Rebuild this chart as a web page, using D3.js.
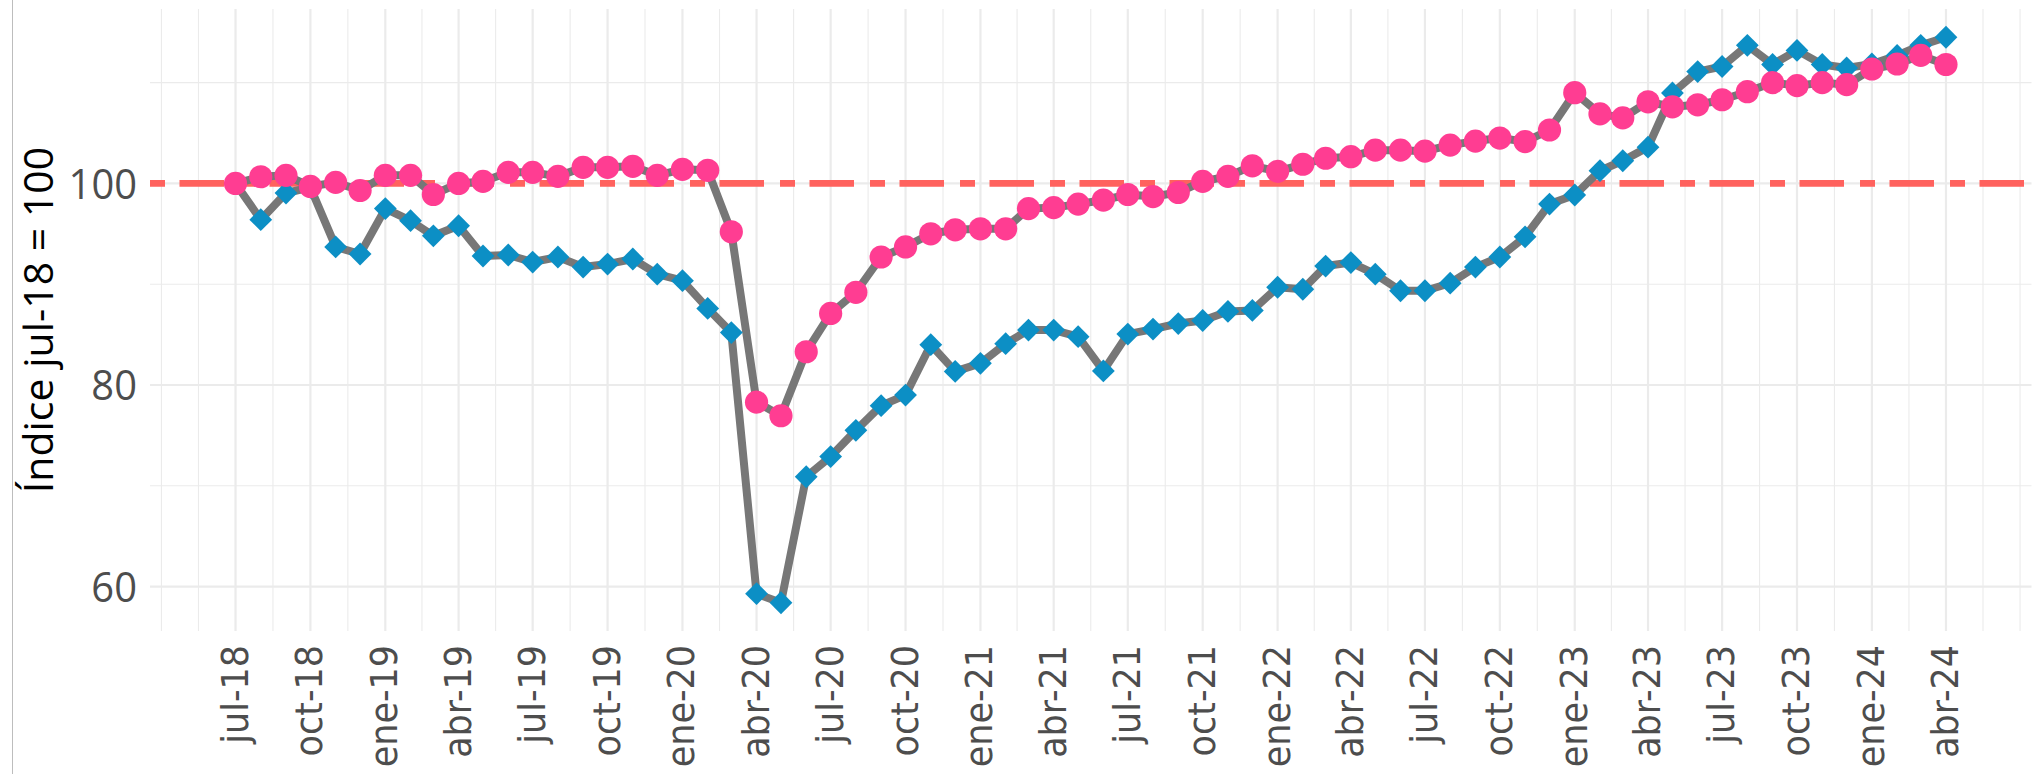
<!DOCTYPE html>
<html>
<head>
<meta charset="utf-8">
<script src="https://cdn.jsdelivr.net/npm/d3@7"></script>
<style>
  html, body { margin: 0; padding: 0; background: #ffffff; }
  svg { display: block; }
</style>
</head>
<body>
<svg id="chart" width="2033" height="774"></svg>
<script>
// ---------------- DATA ----------------
const startMonth = "2018-07";   // first month of both series (monthly data)
const monthCount = 70;          // jul-18 .. abr-24

const seriesBlue = [
  100.0, 96.4, 99.05, 99.6, 93.7, 93.0, 97.5, 96.3, 94.8, 95.8,
  92.8, 92.9, 92.2, 92.7, 91.7, 92.0, 92.5, 91.0, 90.35, 87.6,
  85.2, 59.3, 58.4, 70.9, 72.9, 75.5, 77.95, 79.0, 84.0, 81.35,
  82.15, 84.1, 85.45, 85.45, 84.8, 81.4, 85.05, 85.55, 86.1, 86.4,
  87.3, 87.4, 89.7, 89.5, 91.8, 92.15, 91.0, 89.35, 89.35, 90.1,
  91.7, 92.7, 94.7, 97.95, 98.85, 101.26, 102.25, 103.6, 108.97, 111.1,
  111.6, 113.7, 111.8, 113.2, 111.8, 111.45, 111.85, 112.7, 113.7, 114.5
];

const seriesPink = [
  100.0, 100.66, 100.8, 99.7, 100.1, 99.3, 100.8, 100.8, 98.9, 100.0,
  100.2, 101.1, 101.1, 100.7, 101.6, 101.6, 101.7, 100.8, 101.4, 101.3,
  95.2, 78.3, 76.95, 83.3, 87.1, 89.2, 92.7, 93.7, 95.0, 95.4,
  95.5, 95.5, 97.5, 97.6, 97.95, 98.35, 98.9, 98.7, 99.1, 100.2,
  100.7, 101.75, 101.2, 101.9, 102.5, 102.65, 103.3, 103.3, 103.2, 103.8,
  104.2, 104.5, 104.15, 105.3, 109.0, 106.9, 106.5, 108.1, 107.6, 107.8,
  108.3, 109.1, 110.0, 109.7, 110.0, 109.8, 111.35, 111.85, 112.7, 111.8
];

const referenceValue = 100;
const yTicks = [60, 80, 100];
const yTickLabels = ["60", "80", "100"];
const xTickLabels = [
  "jul-18", "oct-18", "ene-19", "abr-19", "jul-19", "oct-19", "ene-20", "abr-20",
  "jul-20", "oct-20", "ene-21", "abr-21", "jul-21", "oct-21", "ene-22", "abr-22",
  "jul-22", "oct-22", "ene-23", "abr-23", "jul-23", "oct-23", "ene-24", "abr-24"
];
const yTitle = "Índice jul-18 = 100";

// ---------------- LAYOUT ----------------
const W = 2033, H = 774;
const panel = { left: 150, right: 2031.5, top: 9, bottom: 631 };
const FONT = "'Open Sans', 'Noto Sans', sans-serif";
const XFONT = "'DejaVu Sans', 'Open Sans', sans-serif";
const col = {
  blue: "#0c8fc5",
  pink: "#ff3d92",
  line: "#777777",
  ref: "#ff625e",
  grid: "#ebebeb",
  text: "#4d4d4d"
};

const parseM = d3.timeParse("%Y-%m");
const t0 = parseM(startMonth);
const dates = d3.range(monthCount).map(i => d3.timeMonth.offset(t0, i));

const svg = d3.select("#chart");

// scales with ggplot-like 5% expansion
const xExt = d3.extent(dates);
const xSpan = xExt[1] - xExt[0];
const x = d3.scaleTime()
  .domain([new Date(+xExt[0] - 0.05 * xSpan), new Date(+xExt[1] + 0.05 * xSpan)])
  .range([panel.left, panel.right]);

const allV = seriesBlue.concat(seriesPink);
const yMin = d3.min(allV), yMax = d3.max(allV);
const ySpan = yMax - yMin;
const y = d3.scaleLinear()
  .domain([yMin - 0.05 * ySpan, yMax + 0.05 * ySpan])
  .range([panel.bottom, panel.top]);

// ---------------- GRID ----------------
const xMajor = d3.range(0, 3 * xTickLabels.length, 3).map(i => d3.timeMonth.offset(t0, i));
const xExtended = [d3.timeMonth.offset(xMajor[0], -3)].concat(xMajor, [d3.timeMonth.offset(xMajor[xMajor.length - 1], 3)]);
const xMinor = [];
for (let i = 0; i < xExtended.length - 1; i++) {
  xMinor.push(new Date((+xExtended[i] + +xExtended[i + 1]) / 2));
}
xMinor.push(xExtended[0], xExtended[xExtended.length - 1]);

const yMinor = [70, 90, 110];

const grid = svg.append("g");
grid.selectAll(".ymin").data(yMinor).join("line")
  .attr("x1", panel.left).attr("x2", panel.right)
  .attr("y1", d => y(d)).attr("y2", d => y(d))
  .attr("stroke", col.grid).attr("stroke-width", 1.1);
grid.selectAll(".xmin").data(xMinor.filter(d => x(d) >= panel.left && x(d) <= panel.right)).join("line")
  .attr("x1", d => x(d)).attr("x2", d => x(d))
  .attr("y1", panel.top).attr("y2", panel.bottom)
  .attr("stroke", col.grid).attr("stroke-width", 1.1);
grid.selectAll(".ymaj").data(yTicks).join("line")
  .attr("x1", panel.left).attr("x2", panel.right)
  .attr("y1", d => y(d)).attr("y2", d => y(d))
  .attr("stroke", col.grid).attr("stroke-width", 2.2);
grid.selectAll(".xmaj").data(xMajor).join("line")
  .attr("x1", d => x(d)).attr("x2", d => x(d))
  .attr("y1", panel.top).attr("y2", panel.bottom)
  .attr("stroke", col.grid).attr("stroke-width", 2.2);

// left border line of the image
svg.append("line")
  .attr("x1", 12.5).attr("x2", 12.5).attr("y1", 0).attr("y2", H)
  .attr("stroke", "#bdbdbd").attr("stroke-width", 1);

// ---------------- REFERENCE LINE ----------------
svg.append("line")
  .attr("x1", panel.left).attr("x2", panel.right)
  .attr("y1", y(referenceValue)).attr("y2", y(referenceValue))
  .attr("stroke", col.ref).attr("stroke-width", 6.7)
  .attr("stroke-dasharray", "15 14.5 44.5 16");

// ---------------- SERIES ----------------
const lineGen = d3.line().x((d, i) => x(dates[i])).y(d => y(d));

[seriesBlue, seriesPink].forEach(s => {
  svg.append("path")
    .attr("d", lineGen(s))
    .attr("fill", "none")
    .attr("stroke", col.line)
    .attr("stroke-width", 8)
    .attr("stroke-linejoin", "round");
});

const r = 11.4;
const diamond = d3.symbol().type(d3.symbolSquare).size(2 * r * r);
svg.append("g").selectAll("path").data(seriesBlue).join("path")
  .attr("d", diamond)
  .attr("transform", (d, i) => `translate(${x(dates[i])},${y(d)}) rotate(45)`)
  .attr("fill", col.blue);

svg.append("g").selectAll("circle").data(seriesPink).join("circle")
  .attr("cx", (d, i) => x(dates[i]))
  .attr("cy", d => y(d))
  .attr("r", 11.6)
  .attr("fill", col.pink);

// ---------------- AXES ----------------
const yAxis = svg.append("g");
yAxis.selectAll("text").data(yTicks).join("text")
  .attr("transform", d => `translate(137,${y(d)}) scale(0.95,1)`)
  .attr("dy", "0.36em")
  .attr("text-anchor", "end")
  .attr("font-family", FONT)
  .attr("font-size", 42)
  .attr("fill", col.text)
  .text((d, i) => yTickLabels[i]);

const xAxis = svg.append("g");
xAxis.selectAll("text").data(xMajor).join("text")
  .attr("transform", d => `translate(${x(d) + 12},645) rotate(-90) scale(0.92,1)`)
  .attr("text-anchor", "end")
  .attr("font-family", XFONT)
  .attr("font-size", 38)
  .attr("fill", col.text)
  .text((d, i) => xTickLabels[i]);

svg.append("text")
  .attr("transform", `translate(53,${(panel.top + panel.bottom) / 2}) rotate(-90)`)
  .attr("text-anchor", "middle")
  .attr("font-family", FONT)
  .attr("font-size", 41)
  .attr("fill", "#000000")
  .text(yTitle);
</script>
</body>
</html>
